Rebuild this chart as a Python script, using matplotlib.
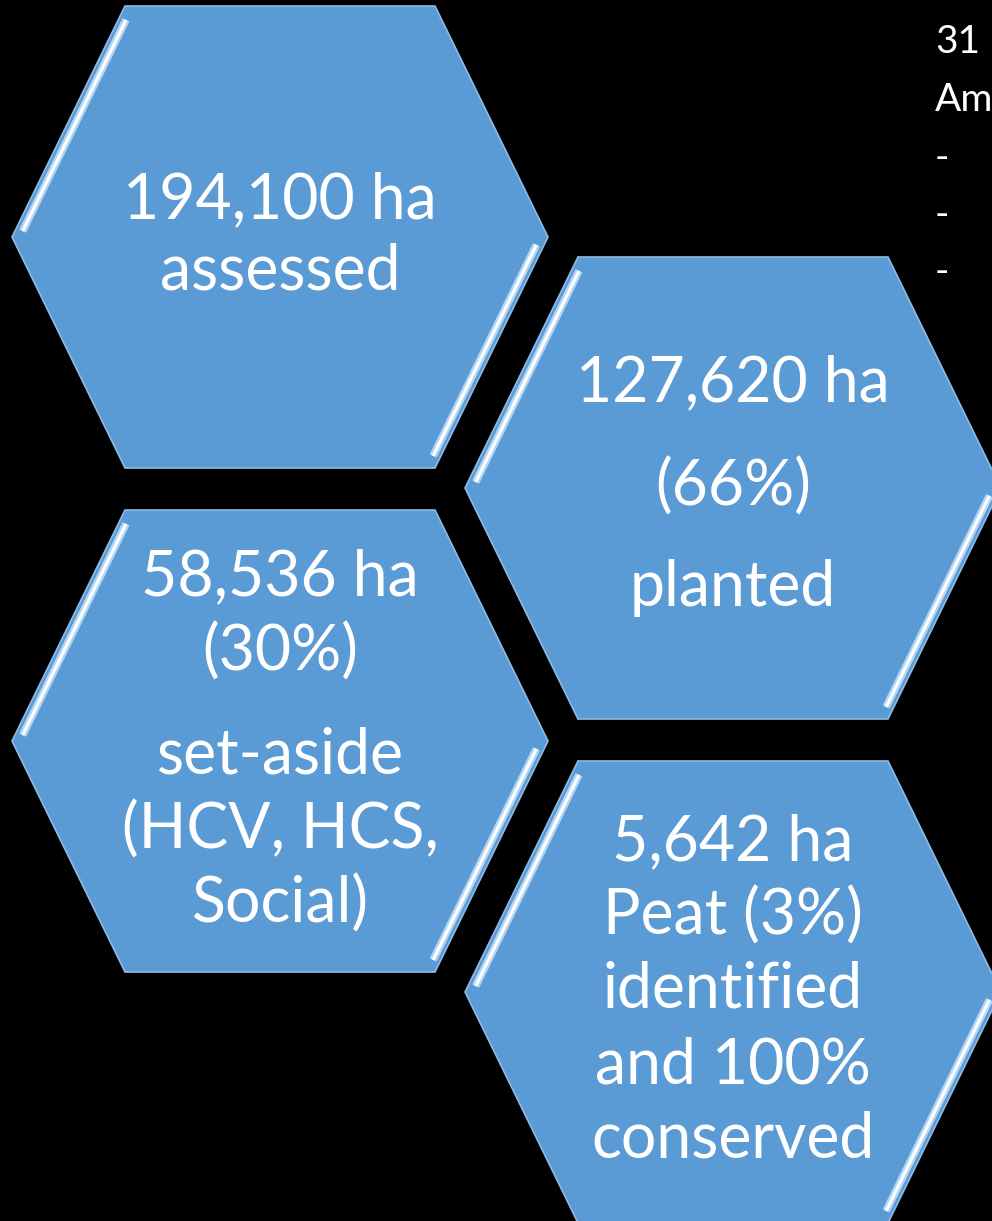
import matplotlib
matplotlib.use("Agg")
import matplotlib.pyplot as plt
from matplotlib.patches import Polygon
import numpy as np

# ---- data ----
hex_labels = [
    ["194,100 ha", "assessed"],
    ["127,620 ha", "(66%)", "planted"],
    ["58,536 ha", "(30%)", "set-aside", "(HCV, HCS,", "Social)"],
    ["5,642 ha", "Peat (3%)", "identified", "and 100%", "conserved"],
]
side_lines = ["31", "Am", "-", "-", "-"]

# ---- layout (pixel coords) ----
W, H = 992, 1221
centers = [(280, 237), (733, 488), (280, 741), (733, 992)]
line_y = [
    [200, 272],
    [383, 487, 588],
    [577, 652, 756, 830, 904],
    [842, 916, 990, 1066, 1140],
]
side_y = [42, 100, 158, 215, 272]
HALF_TOP = 155
HALF_W = 268
HALF_H = 231
FILL = "#5b9bd5"

fig = plt.figure(figsize=(W / 100, H / 100), dpi=100, facecolor="black")
ax = fig.add_axes([0, 0, 1, 1])
ax.set_xlim(0, W)
ax.set_ylim(H, 0)
ax.axis("off")
ax.set_facecolor("black")

def hex_pts(cx, cy):
    return np.array([
        (cx - HALF_TOP, cy - HALF_H),
        (cx + HALF_TOP, cy - HALF_H),
        (cx + HALF_W, cy),
        (cx + HALF_TOP, cy + HALF_H),
        (cx - HALF_TOP, cy + HALF_H),
        (cx - HALF_W, cy),
    ])

def inset_segment(p0, p1, inset, shrink0, shrink1, center):
    p0 = np.array(p0, float); p1 = np.array(p1, float)
    d = p1 - p0
    L = np.hypot(*d)
    u = d / L
    n = np.array([-u[1], u[0]])
    mid = (p0 + p1) / 2
    if np.dot(np.array(center) - mid, n) < 0:
        n = -n
    a = p0 + u * shrink0 + n * inset
    b = p1 - u * shrink1 + n * inset
    return a, b

for (cx, cy), lines, ys in zip(centers, hex_labels, line_y):
    pts = hex_pts(cx, cy)
    ax.add_patch(Polygon(pts, closed=True, facecolor=FILL,
                         edgecolor="#8dbbe6", linewidth=1.2, zorder=1))
    for (i, j) in [(0, 5), (2, 3)]:
        a, b = inset_segment(pts[i], pts[j], 7, 12, 10, (cx, cy))
        ax.plot([a[0], b[0]], [a[1], b[1]], color="#b4d6f5", lw=5.5,
                solid_capstyle="butt", zorder=2)
        ax.plot([a[0], b[0]], [a[1], b[1]], color="white", lw=2.2,
                solid_capstyle="butt", zorder=3)
    for txt, y in zip(lines, ys):
        ax.text(cx, y, txt, color="white", fontsize=45, family="Lato",
                ha="center", va="center", zorder=4)

for txt, y in zip(side_lines, side_y):
    ax.text(935, y, txt, color="white", fontsize=28, family="Lato",
            ha="left", va="center", zorder=4)

fig.savefig("out.png", dpi=100, facecolor="black")
